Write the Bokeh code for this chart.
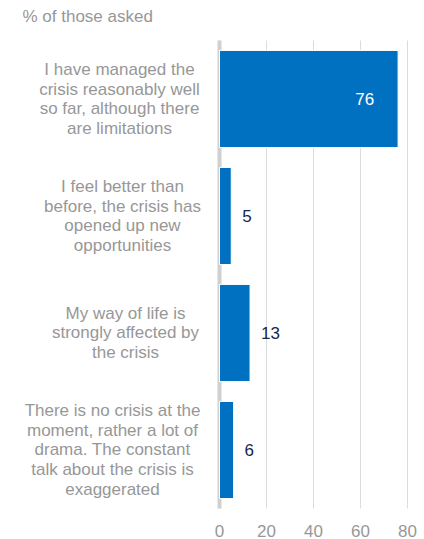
from bokeh.plotting import figure
from bokeh.models import Range1d, ColumnDataSource
from bokeh.core.properties import value
from bokeh.embed import file_html
from bokeh.resources import INLINE

# ---- data ----
categories = [
    "I have managed the\ncrisis reasonably well\nso far, although there\nare limitations",
    "I feel better than\nbefore, the crisis has\nopened up new\nopportunities",
    "My way of life is\nstrongly affected by\nthe crisis",
    "There is no crisis at the\nmoment, rather a lot of\ndrama. The constant\ntalk about the crisis is\nexaggerated",
]
values = [76, 5, 13, 6]
x_ticks = [0, 20, 40, 60, 80]
title_text = "% of those asked"

# ---- styling / layout ----
FONT = "Liberation Sans"
FS = "17px"
GRAY = "#979797"
BLUE = "#0070c0"
NAVY = "#15284b"
W, H = 424, 539
PX_PER_UNIT = 2.35      # horizontal scale
ZERO_PX = 219           # canvas x of value 0
BAND_PX = 117           # height of one category band
TOP_PX = 40             # canvas y of the top of the first band
label_offsets = [-100, -97, -94, -107]  # px offsets of category label centres from zero

n = len(categories)
positions = list(range(n))
x0 = -ZERO_PX / PX_PER_UNIT
y_top = -0.5 - TOP_PX / BAND_PX

p = figure(width=W, height=H, output_backend="svg", toolbar_location=None,
           x_range=Range1d(x0, x0 + W / PX_PER_UNIT),
           y_range=Range1d(y_top + H / BAND_PX, y_top),
           x_axis_location=None, y_axis_location=None,
           min_border=0)
p.outline_line_color = None
p.grid.visible = False

band_top, band_bottom = -0.5, n - 0.5

# vertical grid lines at the ticks
p.segment(x0=x_ticks, x1=x_ticks, y0=band_top, y1=band_bottom,
          line_color="#dcdcdc", line_width=1)
# thick zero line
p.segment(x0=[0], x1=[0], y0=band_top, y1=band_bottom,
          line_color="#d0d0d0", line_width=4)

src = ColumnDataSource(dict(y=positions, v=values))
p.hbar(y="y", left=0, right="v", height=0.83, source=src,
       fill_color=BLUE, line_color="white", line_width=1)

# value labels
inside = [v > 50 for v in values]
in_src = ColumnDataSource(dict(y=[y for y, f in zip(positions, inside) if f],
                               v=[v for v, f in zip(values, inside) if f],
                               t=[str(v) for v, f in zip(values, inside) if f]))
out_src = ColumnDataSource(dict(y=[y for y, f in zip(positions, inside) if not f],
                                v=[v for v, f in zip(values, inside) if not f],
                                t=[str(v) for v, f in zip(values, inside) if not f]))
p.text(x="v", y="y", text="t", source=in_src, x_offset=-24, text_align="right",
       text_baseline="middle", text_color="white", text_font=value(FONT), text_font_size=FS)
p.text(x="v", y="y", text="t", source=out_src, x_offset=11, text_align="left",
       text_baseline="middle", text_color=NAVY, text_font=value(FONT), text_font_size=FS)

# category labels
cat_src = ColumnDataSource(dict(y=positions, t=categories, off=label_offsets, x=[0] * n))
p.text(x="x", y="y", text="t", x_offset="off", source=cat_src, text_align="center",
       text_baseline="middle", text_color=GRAY, text_font=value(FONT),
       text_font_size=FS, text_line_height=1.05)

# tick labels
tick_src = ColumnDataSource(dict(x=x_ticks, y=[band_bottom] * len(x_ticks),
                                 t=[str(t) for t in x_ticks]))
p.text(x="x", y="y", text="t", source=tick_src, y_offset=22, text_align="center",
       text_baseline="middle", text_color=GRAY, text_font=value(FONT), text_font_size=FS)

# title
p.text(x=[x0], y=[y_top], text=[title_text], x_offset=22, y_offset=16,
       text_align="left", text_baseline="middle", text_color=GRAY,
       text_font=value(FONT), text_font_size=FS)

open("out.html", "w").write(file_html(p, INLINE))
